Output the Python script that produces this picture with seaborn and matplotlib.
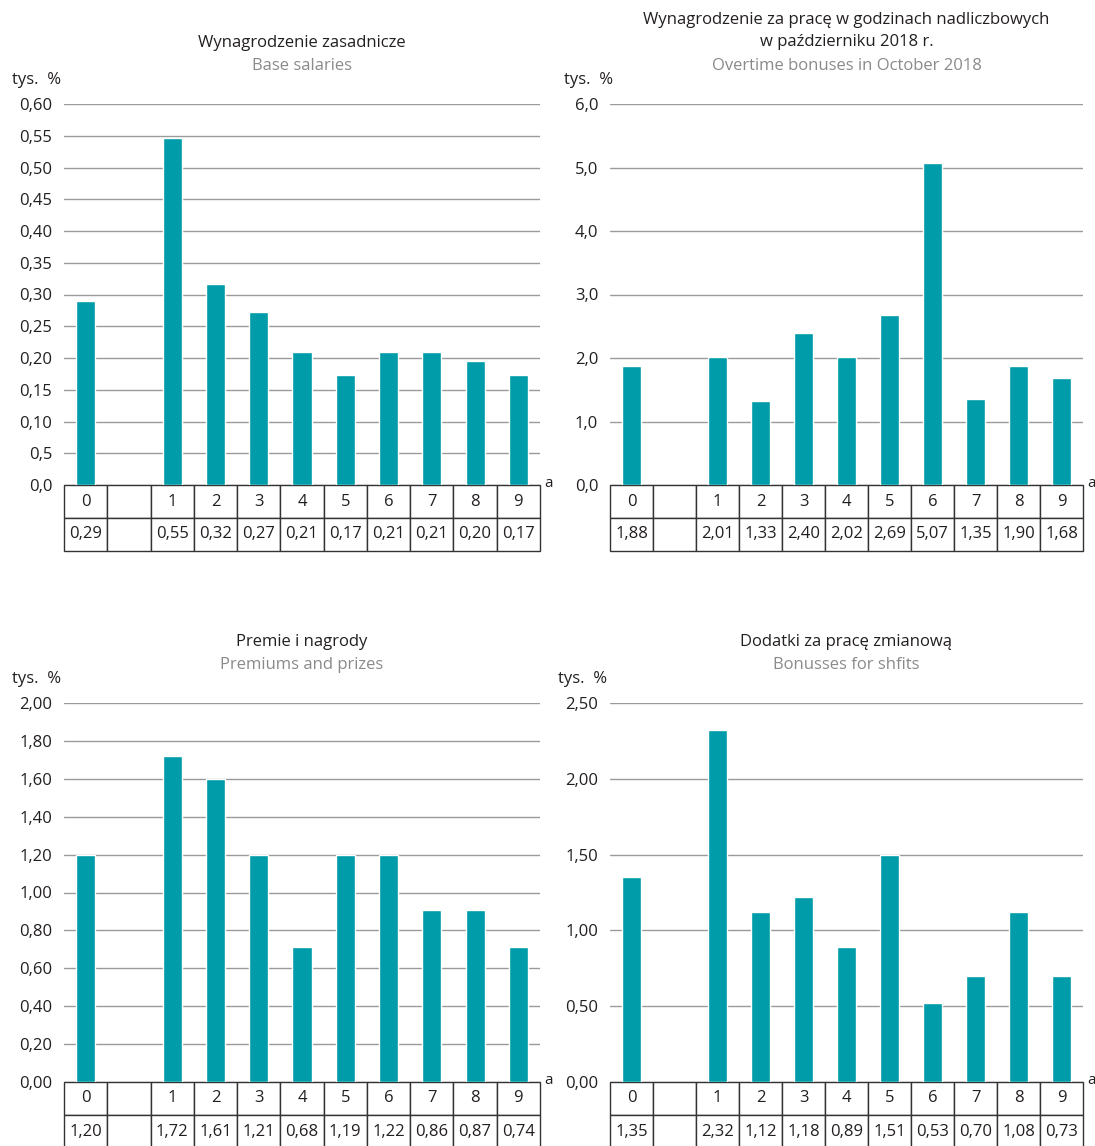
import pandas as pd
import numpy as np
import seaborn as sns
import matplotlib.pyplot as plt

# kategorie (z pustą kolumną po "0")
sloty = ["0", " ", "1", "2", "3", "4", "5", "6", "7", "8", "9"]

# wysokości słupków (None = pusta kolumna)
zasadnicze = [0.29, None, 0.547, 0.316, 0.273, 0.209, 0.174, 0.209, 0.21, 0.195, 0.174]
nadliczbowe = [1.88, None, 2.01, 1.33, 2.40, 2.01, 2.68, 5.07, 1.35, 1.88, 1.68]
premie = [1.20, None, 1.72, 1.60, 1.20, 0.71, 1.20, 1.20, 0.91, 0.91, 0.71]
zmianowe = [1.35, None, 2.32, 1.12, 1.22, 0.89, 1.50, 0.52, 0.70, 1.12, 0.70]

# wartości w tabelkach pod wykresami
tab_zasadnicze = ["0,29", "", "0,55", "0,32", "0,27", "0,21", "0,17", "0,21", "0,21", "0,20", "0,17"]
tab_nadliczbowe = ["1,88", "", "2,01", "1,33", "2,40", "2,02", "2,69", "5,07", "1,35", "1,90", "1,68"]
tab_premie = ["1,20", "", "1,72", "1,61", "1,21", "0,68", "1,19", "1,22", "0,86", "0,87", "0,74"]
tab_zmianowe = ["1,35", "", "2,32", "1,12", "1,18", "0,89", "1,51", "0,53", "0,70", "1,08", "0,73"]

# osie Y
ticks1 = [0, 0.05, 0.10, 0.15, 0.20, 0.25, 0.30, 0.35, 0.40, 0.45, 0.50, 0.55, 0.60]
labels1 = ["0,0", "0,5", "0,10", "0,15", "0,20", "0,25", "0,30", "0,35", "0,40", "0,45", "0,50", "0,55", "0,60"]
ticks2 = [0, 1, 2, 3, 4, 5, 6]
labels2 = ["0,0", "1,0", "2,0", "3,0", "4,0", "5,0", "6,0"]
ticks3 = [0, 0.2, 0.4, 0.6, 0.8, 1.0, 1.2, 1.4, 1.6, 1.8, 2.0]
labels3 = ["0,00", "0,20", "0,40", "0,60", "0,80", "1,00", "1,20", "1,40", "1,60", "1,80", "2,00"]
ticks4 = [0, 0.5, 1.0, 1.5, 2.0, 2.5]
labels4 = ["0,00", "0,50", "1,00", "1,50", "2,00", "2,50"]

tytuly = ["Wynagrodzenie zasadnicze",
          "Wynagrodzenie za pracę w godzinach nadliczbowych\nw październiku 2018 r.",
          "Premie i nagrody",
          "Dodatki za pracę zmianową"]
podtytuly = ["Base salaries", "Overtime bonuses in October 2018",
             "Premiums and prizes", "Bonusses for shfits"]

sns.set_style("white")
plt.rcParams['font.family'] = ['Open Sans', 'DejaVu Sans']

TEAL = "#009ca9"
FS = 12
W, H = 1095, 1146
fig = plt.figure(figsize=(W / 100, H / 100), dpi=100)

# pozycje paneli w pikselach: lewa, prawa, góra osi, zero osi
panele = [
    (64, 540, 104, 485, zasadnicze, tab_zasadnicze, ticks1, labels1, 12, 80),
    (610, 1083, 104, 485, nadliczbowe, tab_nadliczbowe, ticks2, labels2, 564, 80),
    (64, 540, 703, 1082, premie, tab_premie, ticks3, labels3, 12, 679),
    (610, 1083, 703, 1082, zmianowe, tab_zmianowe, ticks4, labels4, 558, 679),
]

for i, (l, r, t, b, wart, tab, ticks, labels, tx, ty) in enumerate(panele):
    ax = fig.add_axes([l / W, 1 - b / H, (r - l) / W, (b - t) / H])
    df = pd.DataFrame({"kat": sloty, "val": wart}).dropna()
    sns.barplot(data=df, x="kat", y="val", order=sloty, color=TEAL,
                saturation=1, width=0.44, ax=ax)
    ax.set_ylim(0, ticks[-1])
    ax.set_xlim(-0.5, 10.5)
    ax.set_yticks(ticks)
    ax.set_yticklabels(labels, fontsize=FS, color="#231f20")
    ax.tick_params(axis="y", length=0, pad=8.5)
    ax.set_xticks([])
    ax.set_xlabel("")
    ax.set_ylabel("")
    for s in ax.spines.values():
        s.set_visible(False)
    ax.yaxis.grid(True, color="#9a9a9a", linewidth=1)
    ax.set_axisbelow(True)

    # tabelka pod wykresem
    rh = 33 / (b - t)
    tbl = ax.table(cellText=[sloty, tab], cellLoc="center",
                   bbox=[0, -2 * rh, 1, 2 * rh])
    tbl.auto_set_font_size(False)
    tbl.set_fontsize(FS)
    for c in tbl.get_celld().values():
        c.set_edgecolor("#333333")
        c.set_linewidth(1)
        c.get_text().set_color("#231f20")

    ax.text(1.008, 0.005, "a", transform=ax.transAxes, fontsize=11,
            ha="left", va="center", color="#231f20")

    # tytuły
    cx = (l + r) / 2 / W
    if i == 1:
        fig.text(cx, 1 - 31 / H, tytuly[i], ha="center", va="center",
                 fontsize=FS, color="#231f20", linespacing=1.45)
    else:
        fig.text(cx, 1 - (t - 61) / H, tytuly[i], ha="center", va="center",
                 fontsize=FS, color="#231f20")
    fig.text(cx, 1 - (t - 38) / H, podtytuly[i], ha="center", va="center",
             fontsize=FS, color="#8a8a8a")
    fig.text(tx / W, 1 - ty / H, "tys.  %", ha="left", va="center",
             fontsize=FS, color="#231f20")

plt.savefig("out.png", dpi=100)
